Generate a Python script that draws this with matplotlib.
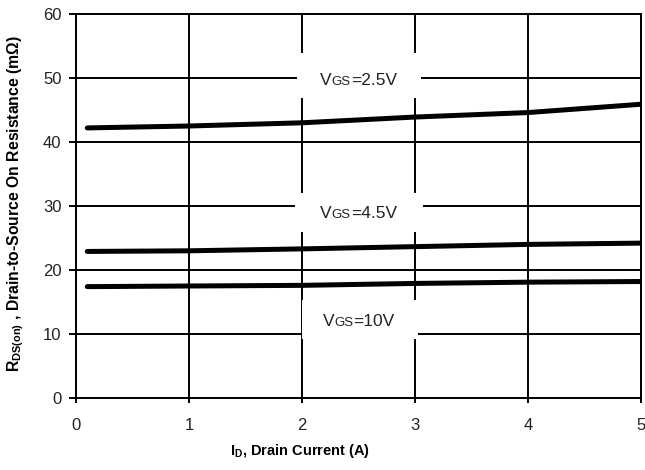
import matplotlib
matplotlib.use("Agg")
import matplotlib.pyplot as plt
from matplotlib.patches import Rectangle
from matplotlib.offsetbox import TextArea, HPacker, AnnotationBbox

plt.rcParams['font.family'] = ['Liberation Sans', 'DejaVu Sans']
plt.rcParams['mathtext.default'] = 'bf'

# data
current = [0.1, 1, 2, 3, 4, 5]
r_vgs25 = [42.2, 42.5, 43.0, 43.9, 44.6, 45.9]
r_vgs45 = [22.9, 23.0, 23.3, 23.65, 24.0, 24.2]
r_vgs10 = [17.4, 17.5, 17.6, 17.9, 18.1, 18.2]
labels = ["2.5V", "4.5V", "10V"]

fig = plt.figure(figsize=(6.45, 4.70), dpi=100)
ax = fig.add_axes([0.1178, 0.1532, 0.876, 0.817])

ax.set_xlim(0, 5)
ax.set_ylim(0, 60)
ax.set_xticks(range(0, 6))
ax.set_yticks(range(0, 61, 10))
ax.grid(True, color='black', linewidth=1.4, zorder=1)
ax.set_axisbelow(True)
for s in ax.spines.values():
    s.set_linewidth(1.4)
    s.set_zorder(1)
ax.tick_params(axis='y', direction='out', length=5, width=1.4, labelsize=12, pad=5.5,
               labelcolor='#222222')
ax.tick_params(axis='x', direction='inout', length=7, width=1.4, labelsize=12, pad=11,
               labelcolor='#222222')

# white boxes behind the labels (x0, y0, w, h in data units)
boxes = [(1.96, 46.9, 1.09, 7.0), (1.94, 25.9, 1.13, 6.1), (2.0, 9.2, 1.03, 6.1)]
for b in boxes:
    ax.add_patch(Rectangle((b[0], b[1]), b[2], b[3], facecolor='white',
                           edgecolor='none', zorder=2))

for ys in (r_vgs25, r_vgs45, r_vgs10):
    ax.plot(current, ys, color='black', linewidth=3.6, solid_capstyle='round', zorder=3)

label_pos = [(2.5, 49.6), (2.5, 28.8), (2.5, 12.0)]
for lab, (lx, ly) in zip(labels, label_pos):
    parts = [TextArea("V", textprops=dict(size=12.5, color='#222222')),
             TextArea("GS", textprops=dict(size=9.5, color='#222222')),
             TextArea("=" + lab, textprops=dict(size=12.5, color='#222222'))]
    pack = HPacker(children=parts, align="baseline", pad=0, sep=0)
    ab = AnnotationBbox(pack, (lx, ly), frameon=False, zorder=4, box_alignment=(0.5, 0.5))
    ax.add_artist(ab)

ax.set_xlabel(r"I$_\mathregular{D}$, Drain Current (A)", fontsize=10.5, fontweight='bold')
ax.xaxis.set_label_coords(0.396, -0.114)
ax.set_ylabel(r"R$_\mathregular{DS(on)}$ , Drain-to-Source On Resistance (mΩ)",
              fontsize=11.3, fontweight='bold')
ax.yaxis.set_label_coords(-0.088, 0.505)

fig.savefig("out.png", dpi=100)
